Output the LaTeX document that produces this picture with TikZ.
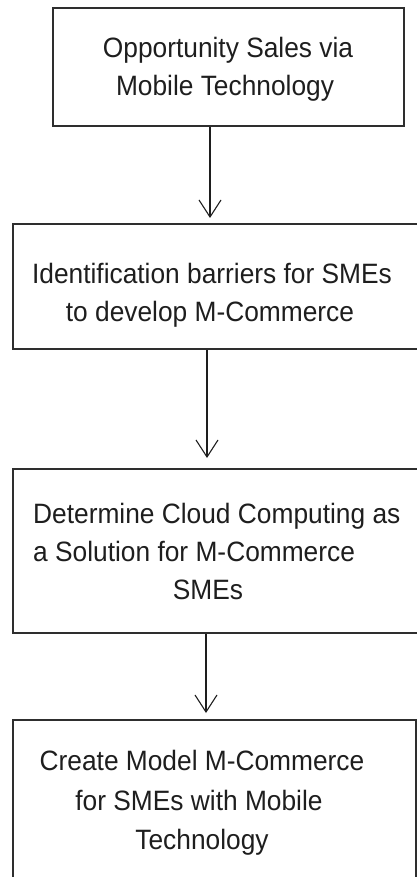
\documentclass[tikz,border=0pt]{standalone}
\usepackage{fontspec}
\newfontfamily\flowfont[FakeStretch=0.94]{Liberation Sans}
\usetikzlibrary{arrows.meta}

\definecolor{edgegray}{HTML}{2E2E2E}
\definecolor{inkgray}{HTML}{1E1E1E}

\tikzset{
  stagebox/.style={draw=edgegray, line width=2pt, rectangle, inner sep=0pt},
  stagetext/.style={inner sep=0pt, text=inkgray,
    font=\flowfont\fontsize{28pt}{28pt}\selectfont},
  flowarrow/.style={draw=inkgray, line width=1.1pt,
    -{Straight Barb[length=17pt, width=22pt, line width=1.1pt]}},
}

\begin{document}
\begin{tikzpicture}[x=1pt, y=-1pt]
  \useasboundingbox (0,0) rectangle (417,877);
  \clip (0,0) rectangle (417,877);

  % stage frames
  \node[stagebox, minimum width=351pt, minimum height=118pt] (b1) at (228.5,67) {};
  \node[stagebox, minimum width=407pt, minimum height=125pt] (b2) at (216.5,286.5) {};
  \node[stagebox, minimum width=407pt, minimum height=164pt] (b3) at (216.5,551) {};
  \node[stagebox, minimum width=403pt, minimum height=180pt] (b4) at (214.5,810) {};

  % stage 1
  \node[stagetext, anchor=base] (t1a) at (228,58) {Opportunity Sales via};
  \node[stagetext, anchor=base] (t1b) at (225,96) {Mobile Technology};

  % stage 2
  \node[stagetext, anchor=base] (t2a) at (212,283) {Identification barriers for SMEs};
  \node[stagetext, anchor=base] (t2b) at (210,321) {to develop M-Commerce};

  % stage 3
  \node[stagetext, anchor=base west] (t3a) at (33,523) {Determine Cloud Computing as};
  \node[stagetext, anchor=base west] (t3b) at (33,561) {a Solution for M-Commerce};
  \node[stagetext, anchor=base] (t3c) at (208,599) {SMEs};

  % stage 4
  \node[stagetext, anchor=base] (t4a) at (202,770) {Create Model M-Commerce};
  \node[stagetext, anchor=base] (t4b) at (199,810) {for SMEs with Mobile};
  \node[stagetext, anchor=base] (t4c) at (202,849) {Technology};

  % arrow tips just above each following frame
  \coordinate (tip1) at (210,218);
  \coordinate (tip2) at (207,458);
  \coordinate (tip3) at (206,713);

  \draw[flowarrow] (b1.south -| tip1) -- (tip1);
  \draw[flowarrow] (b2.south -| tip2) -- (tip2);
  \draw[flowarrow] (b3.south -| tip3) -- (tip3);
\end{tikzpicture}
\end{document}
